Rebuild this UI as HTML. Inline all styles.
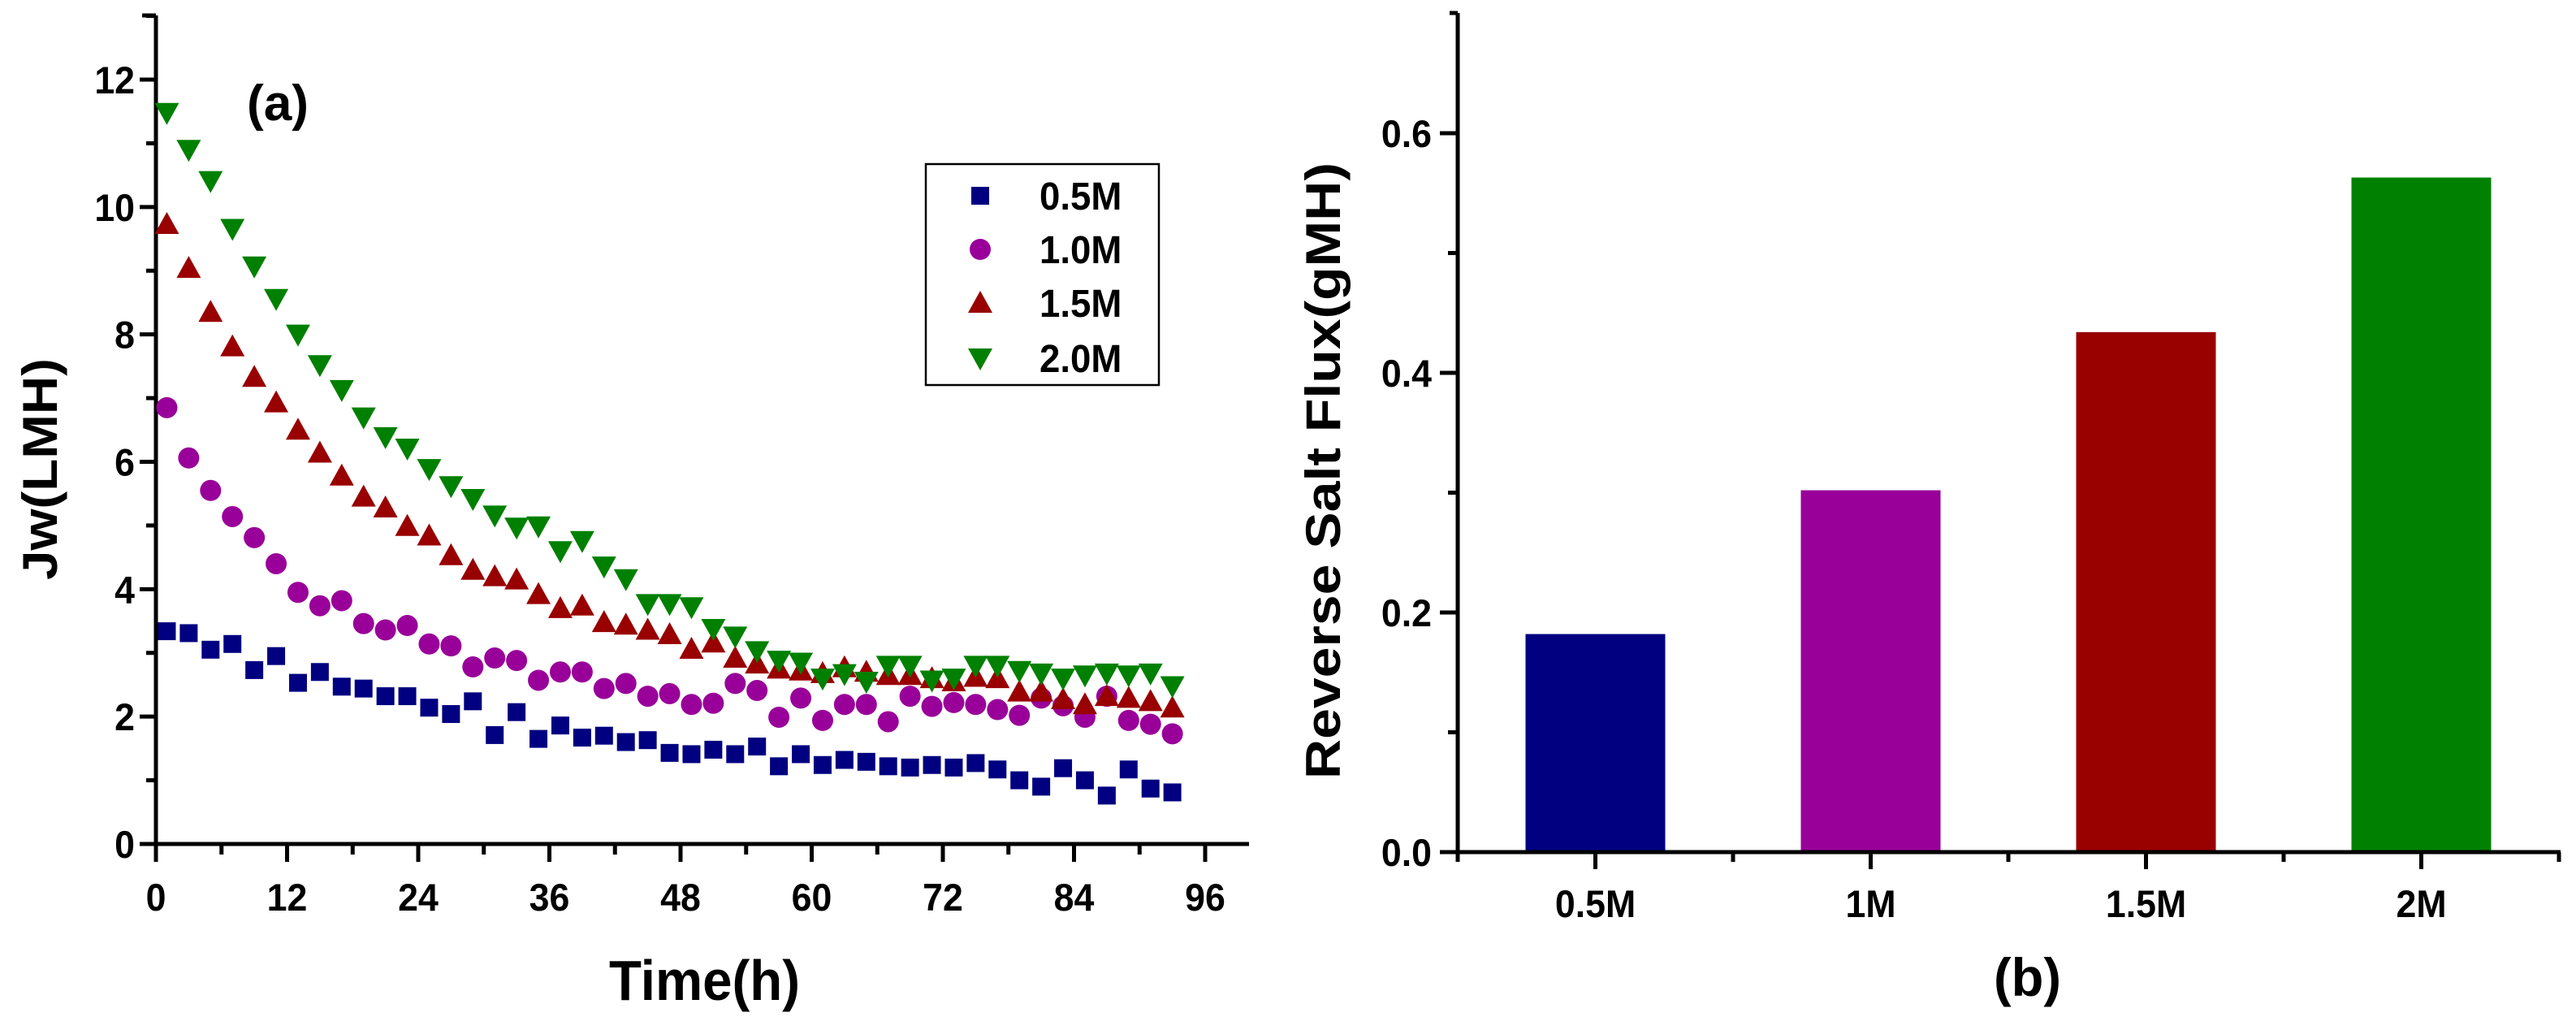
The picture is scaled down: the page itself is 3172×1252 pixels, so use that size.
<!DOCTYPE html>
<html><head><meta charset="utf-8"><style>
html,body{margin:0;padding:0;background:#fff;}
svg{display:block;}
text{font-family:"Liberation Sans",sans-serif;font-weight:bold;fill:#000;}
</style></head><body>
<svg id="chart" width="3172" height="1252" viewBox="0 0 3172 1252" xmlns="http://www.w3.org/2000/svg">
<g id="left"></g>
<g id="right"></g>
</svg>
<script>
const hours = [1,3,5,7,9,11,13,15,17,19,21,23,25,27,29,31,33,35,37,39,41,43,45,47,49,51,53,55,57,59,61,63,65,67,69,71,73,75,77,79,81,83,85,87,89,91,93];
const s05 = [3.34,3.31,3.05,3.14,2.73,2.95,2.53,2.70,2.47,2.44,2.32,2.32,2.14,2.04,2.24,1.71,2.07,1.65,1.86,1.67,1.70,1.60,1.63,1.43,1.41,1.48,1.41,1.53,1.22,1.41,1.24,1.32,1.29,1.22,1.20,1.24,1.20,1.27,1.17,1.00,0.90,1.19,1.00,0.76,1.17,0.87,0.81];
const s10 = [6.85,6.06,5.55,5.14,4.81,4.40,3.95,3.74,3.82,3.46,3.36,3.43,3.14,3.11,2.78,2.92,2.88,2.57,2.70,2.70,2.44,2.52,2.32,2.36,2.19,2.21,2.52,2.41,1.99,2.29,1.94,2.19,2.19,1.92,2.32,2.16,2.22,2.19,2.11,2.02,2.29,2.17,1.99,2.32,1.94,1.88,1.73];
const s15 = [9.73,9.04,8.35,7.81,7.33,6.93,6.50,6.14,5.78,5.45,5.28,4.99,4.84,4.53,4.30,4.20,4.15,3.92,3.70,3.74,3.48,3.44,3.36,3.29,3.06,3.16,2.92,2.83,2.75,2.72,2.68,2.77,2.70,2.65,2.65,2.60,2.55,2.62,2.60,2.39,2.39,2.27,2.19,2.32,2.29,2.24,2.14];
const s20 = [11.48,10.90,10.41,9.66,9.07,8.56,8.00,7.52,7.13,6.70,6.39,6.21,5.89,5.62,5.42,5.16,4.97,4.99,4.60,4.76,4.36,4.16,3.77,3.77,3.72,3.38,3.26,3.03,2.88,2.85,2.60,2.67,2.55,2.80,2.80,2.57,2.60,2.80,2.80,2.72,2.68,2.60,2.65,2.68,2.65,2.68,2.48];
const seriesNames = ["0.5M","1.0M","1.5M","2.0M"];
const xTicks = [0,12,24,36,48,60,72,84,96];
const yTicks = [0,2,4,6,8,10,12];
const barCats = ["0.5M","1M","1.5M","2M"];
const barVals = [0.182,0.302,0.434,0.563];
const barYTicks = [0.0,0.2,0.4,0.6];

const NS="http://www.w3.org/2000/svg";
function mk(parent,tag,attrs,txt){const e=document.createElementNS(NS,tag);for(const k in attrs)e.setAttribute(k,attrs[k]);if(txt!==undefined)e.textContent=txt;parent.appendChild(e);return e;}
function ntext(parent,x,y,size,anchor,str,sx){
  return mk(parent,'text',{x:0,y:0,'font-size':size,'text-anchor':anchor,transform:`translate(${x},${y}) scale(${sx||0.95},1)`},str);
}

// ---- Left chart ----
const L=document.getElementById('left');
const X0=192,X1=1484,Yb=1039,Yt=98;
const lx=v=>X0+(v/96)*(X1-X0);
const ly=v=>Yb-(v/12)*(Yb-Yt);
let e;
e=mk(L,'line',{x1:X0,y1:Yb,x2:1538,y2:Yb,stroke:'#000','stroke-width':5});


e=mk(L,'line',{x1:X0,y1:Yb+2,x2:X0,y2:19,stroke:'#000','stroke-width':5});


mk(L,'line',{x1:X0,y1:19,x2:175,y2:19,stroke:'#000','stroke-width':5});
for(let v=0;v<=99;v+=6){const x=lx(v);if(x>1538)break;mk(L,'line',{x1:x,y1:Yb,x2:x,y2:Yb+(v%12===0?22:13),stroke:'#000','stroke-width':5});}
for(let v=0;v<=13;v++){const y=ly(v);if(y<19)break;mk(L,'line',{x1:X0,y1:y,x2:X0-(v%2===0?20:12),y2:y,stroke:'#000','stroke-width':5});}
xTicks.forEach(v=>{const t=ntext(L,lx(v),1121,47,'middle',String(v));

});
yTicks.forEach(v=>{const t=ntext(L,166,ly(v)+17,47,'end',String(v));

});
e=mk(L,'text',{x:750,y:1231,'font-size':70,textLength:235,lengthAdjust:'spacingAndGlyphs'},'Time(h)');


e=mk(L,'text',{x:-714,y:70,'font-size':60,textLength:273,lengthAdjust:'spacingAndGlyphs',transform:'rotate(-90)'},'Jw(LMH)');


e=mk(L,'text',{x:304,y:148,'font-size':62,textLength:76,lengthAdjust:'spacingAndGlyphs'},'(a)');



const colors=['#000080','#990099','#990000','#008000'];
function marker(g,kind,cx,cy,c){
  if(kind===0) return mk(g,'rect',{x:cx-11,y:cy-11,width:22,height:22,fill:c});
  if(kind===1) return mk(g,'ellipse',{cx:cx,cy:cy,rx:13,ry:13,fill:c});
  if(kind===2) return mk(g,'polygon',{points:`${cx},${cy-15} ${cx+15},${cy+12} ${cx-15},${cy+12}`,fill:c});
  return mk(g,'polygon',{points:`${cx-15},${cy-12} ${cx+15},${cy-12} ${cx},${cy+15}`,fill:c});
}
const allSeries=[s05,s10,s15,s20];
allSeries.forEach((s,si)=>{
  const g=mk(L,'g',{});
  
  
  s.forEach((v,i)=>{const m=marker(g,si,lx(hours[i]),ly(v),colors[si]);
    
    });
});
// legend
const lg=mk(L,'g',{});


mk(lg,'rect',{x:1140,y:202,width:287,height:272,fill:'#fff',stroke:'#000','stroke-width':2.5});
const lys=[241,307,373,441];
seriesNames.forEach((n,i)=>{const m=marker(lg,i,1207,lys[i],colors[i]);
  
  
  const t=ntext(lg,1280,lys[i]+17,48,'start',n);
  
  });

// ---- Right chart ----
const R=document.getElementById('right');
const BX0=1795,BX1=3151,BYb=1049,BYt=164;
const bx=i=>BX0+(i+0.5)*(BX1-BX0)/4;
const by=v=>BYb-(v/0.6)*(BYb-BYt);
const halfW=86;
barVals.forEach((v,i)=>{const r=mk(R,'rect',{x:bx(i)-halfW,y:by(v),width:2*halfW,height:BYb-by(v),fill:colors[i]});
  
  });
e=mk(R,'line',{x1:BX0,y1:BYb,x2:BX1+2,y2:BYb,stroke:'#000','stroke-width':5});


e=mk(R,'line',{x1:BX0,y1:BYb+12,x2:BX0,y2:16,stroke:'#000','stroke-width':5});


mk(R,'line',{x1:BX0,y1:16,x2:BX0-10,y2:16,stroke:'#000','stroke-width':5});
for(let k=0;k<=4;k++){const x=BX0+k*(BX1-BX0)/4;mk(R,'line',{x1:x,y1:BYb,x2:x,y2:BYb+12,stroke:'#000','stroke-width':5});}
barCats.forEach((c,i)=>{mk(R,'line',{x1:bx(i),y1:BYb,x2:bx(i),y2:BYb+21,stroke:'#000','stroke-width':5});
  const t=ntext(R,bx(i),1129,47,'middle',c);
  
  });
for(let k=0;k<=6;k++){const y=by(k*0.1);mk(R,'line',{x1:BX0,y1:y,x2:BX0-(k%2===0?22:12),y2:y,stroke:'#000','stroke-width':5});}
barYTicks.forEach(v=>{const t=ntext(R,1763,by(v)+17,47,'end',v.toFixed(1));
  
  });
e=mk(R,'text',{x:-959,y:1650,'font-size':60,textLength:759,lengthAdjust:'spacingAndGlyphs',transform:'rotate(-90)'},'Reverse Salt Flux(gMH)');


e=mk(R,'text',{x:2455,y:1226,'font-size':66,textLength:83,lengthAdjust:'spacingAndGlyphs'},'(b)');


</script>
</body></html>
